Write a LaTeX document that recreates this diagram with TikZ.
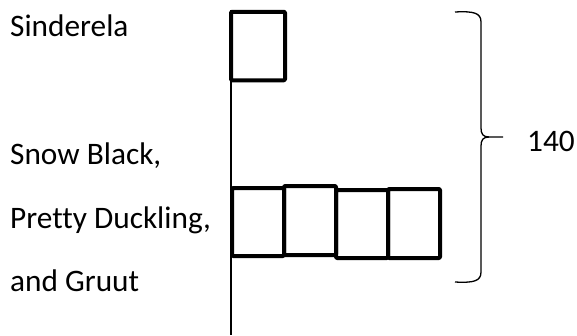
\documentclass[tikz,border=0pt]{standalone}
\usepackage{fontspec}
\setmainfont{Carlito}[Ligatures=NoCommon]
\begin{document}
\begin{tikzpicture}[x=1pt,y=-1pt,
  lbl/.style={anchor=base west,inner sep=0pt,font=\fontsize{31.3}{36}\selectfont},
  cell/.style={draw,line width=4pt,line join=round,rounded corners=1pt,inner sep=0pt},
  axis/.style={line width=1.6pt},
  brace/.style={line width=1.3pt,line join=miter}]
\useasboundingbox (0,0) rectangle (577,335);
% labels
\node[lbl] (s1) at (10,36) {Sinderela};
\node[lbl] (s2) at (10,164) {Snow Black,};
\node[lbl] (s3) at (10,228) {Pretty Duckling,};
\node[lbl] (s4) at (10,291) {and Gruut};
\node[lbl] (n) at (527,151) {140};
% axis
\coordinate (atop) at (231,10);
\coordinate (abot) at (231,335);
\draw[axis] (atop) -- (abot);
% boxes
\node[cell,minimum width=54pt,minimum height=68.5pt] (b0) at (258,46) {};
\node[cell,minimum width=52pt,minimum height=68pt] (b1) at (258,222) {};
\node[cell,minimum width=52pt,minimum height=69pt] (b2) at (310,220.5) {};
\node[cell,minimum width=52pt,minimum height=68pt] (b3) at (362,224) {};
\node[cell,minimum width=52pt,minimum height=69pt] (b4) at (414,223.5) {};
% brace
\coordinate (bt) at (455,12);
\coordinate (bb) at (455,282);
\coordinate (tip) at (503,137);
\draw[brace] (bt) .. controls (474,11) and (481,13) .. (481,22) -- (481,128)
  .. controls (481,134) and (483,137) .. (489,137) -- (tip);
\draw[brace] (489,137) .. controls (483,137) and (481,140) .. (481,146) -- (481,272)
  .. controls (481,281) and (474,283) .. (bb);
\end{tikzpicture}
\end{document}
